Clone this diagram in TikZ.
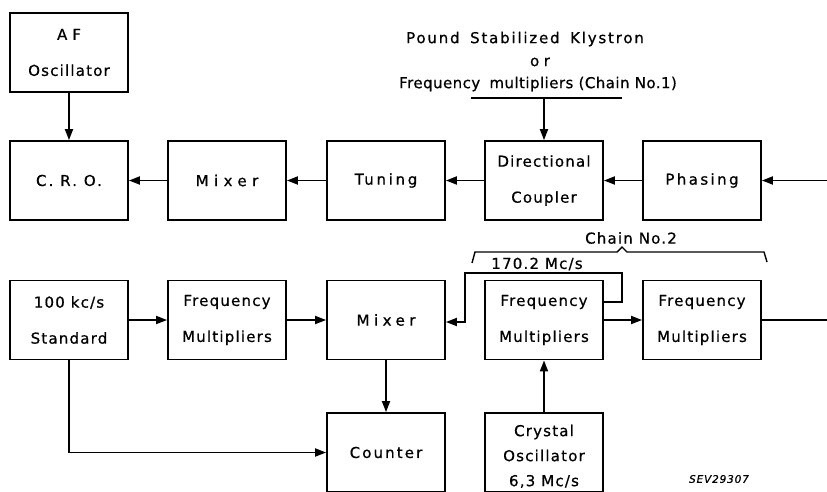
\documentclass[tikz,border=0pt]{standalone}
\usepackage{fontspec}
\setmainfont[LetterSpace=8,FakeBold=0.7]{DejaVu Sans}
\usetikzlibrary{arrows.meta}
\newcommand{\ls}[2]{{\addfontfeature{LetterSpace=#1}#2}}
\begin{document}
\begin{tikzpicture}[x=1pt,y=-1pt,
  box/.style={draw, line width=1.8pt, minimum width=118pt, minimum height=79pt,
    inner sep=0pt, align=center, font=\fontsize{15}{36}\selectfont},
  conn/.style={line width=1.8pt},
  arr/.style={conn, -{Triangle[length=11pt,width=8pt]}},
  lbl/.style={font=\fontsize{15}{24}\selectfont, inner sep=0pt},
  tag/.style={font=\fontsize{10.5}{12}\selectfont\itshape, inner sep=0pt}
]
\useasboundingbox (0,0) rectangle (827,491);
% top row
\node[box] (af)  at (69,52.5)  {A\hspace{5pt}F\\Oscillator};
\node[box] (cro) at (69,180.5) {\ls{14}{C. R. O.}};
\node[box] (mx1) at (227,180.5) {\ls{36}{Mixer}};
\node[box] (tun) at (386,180.5) {\ls{18}{Tuning}};
\node[box] (dc)  at (544,180.5) {Directional\\Coupler};
\node[box] (ph)  at (702,180.5) {\ls{16}{Phasing}};
% bottom row
\node[box] (std) at (69,320)  {100 kc/s\\Standard};
\node[box] (fm1) at (227,320) {Frequency\\Multipliers};
\node[box] (mx2) at (386,320) {\ls{30}{Mixer}};
\node[box] (fm2) at (544,320) {Frequency\\Multipliers};
\node[box] (fm3) at (702,320) {Frequency\\Multipliers};
\node[box] (cnt) at (386,452.5) {\ls{14}{Counter}};
\node[box, font=\fontsize{15}{25}\selectfont] (xo) at (544,452.5) {\rule{0pt}{0pt}\\[-6pt]Crystal\\Oscillator\\6,3 Mc/s};
% labels
\node[lbl] (t1) at (525,39) {\ls{12}{Pound\hspace{4pt} Stabilized\hspace{4pt} Klystron}};
\node[lbl] (t2) at (540,62) {\ls{30}{or}};
\node[lbl] (t3) at (538,84) {\ls{3}{Frequency\hspace{4pt} multipliers (Chain No.1)}};
\node[lbl] (l170) at (537,264) {170.2 Mc/s};
\node[lbl] (ch2) at (631,238) {Chain No.2};
\node[tag] (sev) at (719,479) {SEV29307};
% top connectors
\coordinate (sL) at (471,98);
\coordinate (sR) at (622,98);
\coordinate (sM) at (544,98);
\draw[conn] (sL) -- (sR);
\draw[arr] (sM) -- (dc);
\draw[arr] (af) -- (cro);
\draw[arr] (mx1) -- (cro);
\draw[arr] (tun) -- (mx1);
\draw[arr] (dc) -- (tun);
\draw[arr] (ph) -- (dc);
\coordinate (rin) at (835,180.5);
\draw[arr] (rin) -- (ph);
% bottom connectors
\draw[arr] (std) -- (fm1);
\draw[arr] (fm1) -- (mx2);
\draw[arr] (mx2) -- (cnt);
\draw[arr] (std.south) |- (cnt.west);
\draw[arr] (xo) -- (fm2);
\draw[arr] (fm2) -- (fm3);
\coordinate (rout) at (835,320);
\draw[conn] (fm3) -- (rout);
\coordinate (c1) at (622,273);
\coordinate (c2) at (465,273);
\draw[arr] (fm2.east |- 0,302) -- (c1 |- 0,302) -- (c1) -- (c2) -- (c2 |- 0,322) -- (mx2.east |- 0,322);
% brace
\draw[line width=1.4pt] (472,263) -- (475,252) -- (617,252) -- (622,247) -- (627,252) -- (764,252) -- (767,262);
\end{tikzpicture}
\end{document}
